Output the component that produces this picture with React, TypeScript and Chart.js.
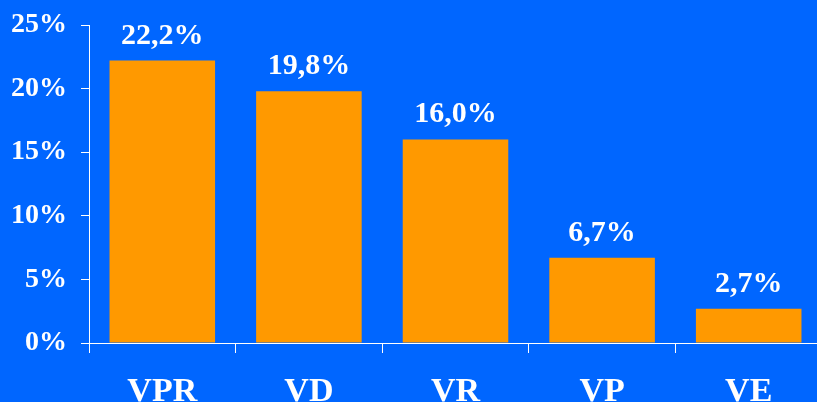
import React, { useEffect, useRef } from "react";
import { Chart, registerables } from "chart.js";

Chart.register(...registerables);

const categories = ["VPR", "VD", "VR", "VP", "VE"];
const values = [22.2, 19.8, 16.0, 6.7, 2.7];
const yTicks = [0, 5, 10, 15, 20, 25];

const FONT = '"Liberation Serif", "Times New Roman", serif';
const BG = "#0066FF";
const BAR = "#FF9900";

const dataLabelPlugin = {
  id: "dataLabels",
  afterDatasetsDraw(chart: any) {
    const ctx = chart.ctx;
    const meta = chart.getDatasetMeta(0);
    ctx.save();
    ctx.fillStyle = "#FFFFFF";
    ctx.font = `bold 30px ${FONT}`;
    ctx.textAlign = "center";
    ctx.textBaseline = "alphabetic";
    meta.data.forEach((bar: any, i: number) => {
      const txt = values[i].toFixed(1).replace(".", ",") + "%";
      ctx.fillText(txt, bar.x, bar.y - 17);
    });
    ctx.restore();
  },
};

export default function App() {
  const ref = useRef<HTMLCanvasElement | null>(null);

  useEffect(() => {
    if (!ref.current) return;
    const chart = new Chart(ref.current, {
      type: "bar",
      data: {
        labels: categories,
        datasets: [
          {
            data: values,
            backgroundColor: BAR,
            borderWidth: 0,
            categoryPercentage: 1,
            barPercentage: 0.72,
          },
        ],
      },
      options: {
        animation: false,
        responsive: false,
        layout: { padding: { top: 25, right: 0, bottom: 0, left: 0 } },
        plugins: {
          legend: { display: false },
          tooltip: { enabled: false },
        },
        scales: {
          x: {
            grid: {
              display: true,
              drawOnChartArea: false,
              offset: true,
              color: "#FFFFFF",
              lineWidth: 1,
              tickLength: 10,
            },
            border: { display: true, color: "#FFFFFF", width: 1 },
            ticks: {
              color: "#FFFFFF",
              font: { family: FONT, size: 34, weight: "bold" },
              padding: 19,
              maxRotation: 0,
              autoSkip: false,
            },
            afterFit: (scale: any) => {
              scale.height = 59;
              scale.paddingLeft = 0;
              scale.paddingRight = 0;
            },
          },
          y: {
            min: 0,
            max: 25,
            afterBuildTicks: (scale: any) => {
              scale.ticks = yTicks.map((v) => ({ value: v }));
            },
            grid: {
              display: true,
              drawOnChartArea: false,
              color: "#FFFFFF",
              lineWidth: 1,
              tickLength: 8,
            },
            border: { display: true, color: "#FFFFFF", width: 1 },
            ticks: {
              color: "#FFFFFF",
              font: { family: FONT, size: 28, weight: "bold" },
              padding: 14,
              callback: (v: any) => v + "%",
            },
            afterFit: (scale: any) => {
              scale.width = 89;
              scale.paddingTop = 0;
              scale.paddingBottom = 0;
            },
          },
        },
      },
      plugins: [dataLabelPlugin],
    });
    return () => chart.destroy();
  }, []);

  return (
    <div
      style={{
        position: "fixed",
        left: 0,
        top: 0,
        width: 817,
        height: 402,
        overflow: "hidden",
        background: BG,
      }}
    >
      <canvas ref={ref} width={822} height={402} style={{ display: "block" }} />
    </div>
  );
}
